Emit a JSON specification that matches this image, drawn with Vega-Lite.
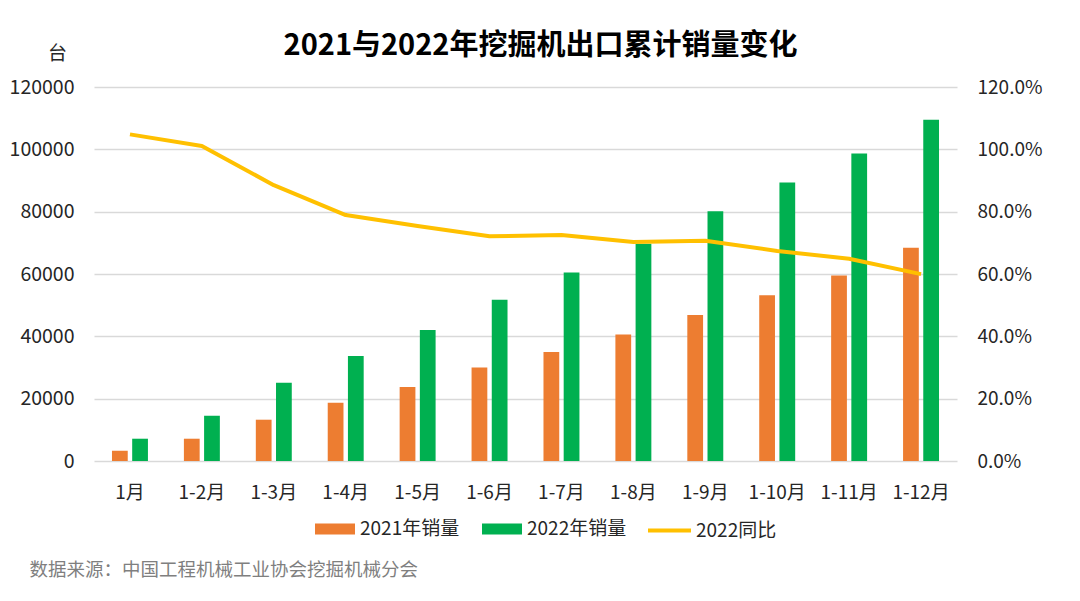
{
  "$schema": "https://vega.github.io/schema/vega-lite/v6.json",
  "autosize": {"type": "none"},
  "width": 863,
  "height": 374,
  "padding": {"left": 94, "top": 87, "right": 123, "bottom": 140},
  "background": "white",
  "config": {
    "font": "Noto Sans CJK SC",
    "view": {"stroke": null},
    "axis": {"labelFont": "Noto Sans CJK SC", "titleFont": "Noto Sans CJK SC"},
    "legend": {"labelFont": "Noto Sans CJK SC"}
  },
  "title": {
    "text": "2021与2022年挖掘机出口累计销量变化",
    "fontSize": 29,
    "fontWeight": "bold",
    "color": "#000000",
    "anchor": "middle",
    "dx": 15,
    "offset": -17,
    "font": "Noto Sans CJK SC"
  },
  "datasets": {
    "bars": [
      {"month": "1月", "series": "2021年销量", "value": 3300},
      {"month": "1月", "series": "2022年销量", "value": 7150},
      {"month": "1-2月", "series": "2021年销量", "value": 7150},
      {"month": "1-2月", "series": "2022年销量", "value": 14530},
      {"month": "1-3月", "series": "2021年销量", "value": 13250},
      {"month": "1-3月", "series": "2022年销量", "value": 25100},
      {"month": "1-4月", "series": "2021年销量", "value": 18700},
      {"month": "1-4月", "series": "2022年销量", "value": 33670},
      {"month": "1-5月", "series": "2021年销量", "value": 23730},
      {"month": "1-5月", "series": "2022年销量", "value": 42000},
      {"month": "1-6月", "series": "2021年销量", "value": 30030},
      {"month": "1-6月", "series": "2022年销量", "value": 51720},
      {"month": "1-7月", "series": "2021年销量", "value": 34950},
      {"month": "1-7月", "series": "2022年销量", "value": 60500},
      {"month": "1-8月", "series": "2021年销量", "value": 40620},
      {"month": "1-8月", "series": "2022年销量", "value": 69680},
      {"month": "1-9月", "series": "2021年销量", "value": 46810},
      {"month": "1-9月", "series": "2022年销量", "value": 80160},
      {"month": "1-10月", "series": "2021年销量", "value": 53220},
      {"month": "1-10月", "series": "2022年销量", "value": 89360},
      {"month": "1-11月", "series": "2021年销量", "value": 59530},
      {"month": "1-11月", "series": "2022年销量", "value": 98650},
      {"month": "1-12月", "series": "2021年销量", "value": 68430},
      {"month": "1-12月", "series": "2022年销量", "value": 109460}
    ],
    "line": [
      {"month": "1月", "series": "2022同比", "ratio": 1.048},
      {"month": "1-2月", "series": "2022同比", "ratio": 1.011},
      {"month": "1-3月", "series": "2022同比", "ratio": 0.885},
      {"month": "1-4月", "series": "2022同比", "ratio": 0.789},
      {"month": "1-5月", "series": "2022同比", "ratio": 0.754},
      {"month": "1-6月", "series": "2022同比", "ratio": 0.721},
      {"month": "1-7月", "series": "2022同比", "ratio": 0.725},
      {"month": "1-8月", "series": "2022同比", "ratio": 0.703},
      {"month": "1-9月", "series": "2022同比", "ratio": 0.707},
      {"month": "1-10月", "series": "2022同比", "ratio": 0.674},
      {"month": "1-11月", "series": "2022同比", "ratio": 0.649},
      {"month": "1-12月", "series": "2022同比", "ratio": 0.5996}
    ]
  },
  "encoding": {
    "x": {
      "field": "month",
      "type": "nominal",
      "sort": null,
      "scale": {
        "domain": ["1月", "1-2月", "1-3月", "1-4月", "1-5月", "1-6月", "1-7月", "1-8月", "1-9月", "1-10月", "1-11月", "1-12月"],
        "paddingInner": 0.5,
        "paddingOuter": 0.25
      },
      "axis": {
        "title": "数据来源：中国工程机械工业协会挖掘机械分会",
        "titleX": -65,
        "titleY": 108,
        "titleAlign": "left",
        "titleBaseline": "middle",
        "titleAnchor": null,
        "titleFontSize": 18.5,
        "titleFontWeight": "normal",
        "titleColor": "#7f7f7f",
        "labelAngle": 0,
        "labelFontSize": 19,
        "labelColor": "#262626",
        "labelPadding": 22,
        "domain": false,
        "ticks": false,
        "grid": false
      }
    }
  },
  "layer": [
    {
      "data": {"name": "bars"},
      "mark": {"type": "bar"},
      "encoding": {
        "xOffset": {
          "field": "series",
          "type": "nominal",
          "scale": {"paddingInner": 0.22, "paddingOuter": 0}
        },
        "y": {
          "field": "value",
          "type": "quantitative",
          "scale": {"domain": [0, 120000], "nice": false},
          "axis": {
            "title": "台",
            "titleAngle": 0,
            "titleX": -37,
            "titleY": -34,
            "titleAlign": "center",
            "titleBaseline": "middle",
            "titleFontSize": 19,
            "titleFontWeight": "normal",
            "titleColor": "#262626",
            "values": [0, 20000, 40000, 60000, 80000, 100000, 120000],
            "format": "d",
            "labelFontSize": 19.5,
            "labelColor": "#262626",
            "labelPadding": 20,
            "domain": false,
            "ticks": false,
            "grid": true,
            "gridColor": "#d9d9d9",
            "gridWidth": 1.5
          }
        },
        "color": {
          "field": "series",
          "type": "nominal",
          "scale": {"domain": ["2021年销量", "2022年销量"], "range": ["#ED7D31", "#00B050"]},
          "legend": {
            "title": null,
            "orient": "none",
            "direction": "horizontal",
            "legendX": 221,
            "legendY": 422,
            "symbolType": "M-1,-0.275H1V0.275H-1Z",
            "symbolSize": 1600,
            "symbolStrokeWidth": 0,
            "symbolOpacity": 1,
            "labelOffset": 5,
            "labelFontSize": 19,
            "labelColor": "#262626",
            "columnPadding": 22
          }
        }
      }
    },
    {
      "data": {"name": "line"},
      "mark": {"type": "line", "strokeWidth": 4, "strokeJoin": "round", "strokeCap": "butt"},
      "encoding": {
        "y": {
          "field": "ratio",
          "type": "quantitative",
          "scale": {"domain": [0, 1.2], "nice": false},
          "axis": {
            "orient": "right",
            "title": null,
            "values": [0, 0.2, 0.4, 0.6, 0.8, 1.0, 1.2],
            "format": ".1%",
            "labelFontSize": 19,
            "labelColor": "#262626",
            "labelPadding": 20,
            "domain": false,
            "ticks": false,
            "grid": false
          }
        },
        "stroke": {
          "field": "series",
          "type": "nominal",
          "scale": {"domain": ["2022同比"], "range": ["#FFC000"]},
          "legend": {
            "title": null,
            "orient": "none",
            "direction": "horizontal",
            "legendX": 552,
            "legendY": 420,
            "symbolType": "stroke",
            "symbolSize": 1849,
            "symbolStrokeWidth": 4,
            "labelOffset": 3,
            "labelFontSize": 19,
            "labelColor": "#262626"
          }
        }
      }
    }
  ],
  "resolve": {"scale": {"y": "independent"}}
}
